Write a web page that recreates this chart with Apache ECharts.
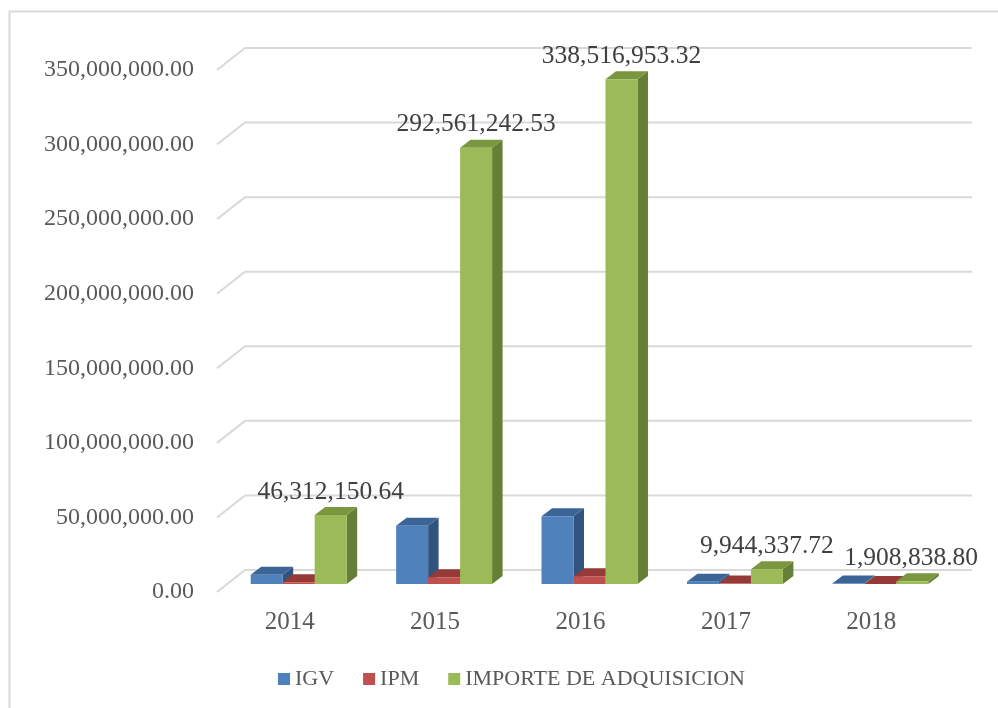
<!DOCTYPE html>
<html>
<head>
<meta charset="utf-8">
<script src="https://cdn.jsdelivr.net/npm/echarts@6/dist/echarts.min.js"></script>
<style>html,body{margin:0;padding:0;background:#fff;}#chart{width:998px;height:708px;}</style>
</head>
<body>
<div id="chart"></div>
<script>
const years = ['2014', '2015', '2016', '2017', '2018'];
const igv = [6200000, 39000000, 45500000, 1500000, 300000];
const ipm = [1200000, 4500000, 5200000, 400000, 60000];
const importe = [46312150.64, 292561242.53, 338516953.32, 9944337.72, 1908838.80];
const yTickValues = [0, 50000000, 100000000, 150000000, 200000000, 250000000, 300000000, 350000000];
const seriesNames = ['IGV', 'IPM', 'IMPORTE DE ADQUISICION'];

const FONT = '"Liberation Serif", serif';
const fmt = v => v.toLocaleString('en-US', {minimumFractionDigits: 2, maximumFractionDigits: 2});

const palette = [
  {front: '#4F81BD', top: '#3C6597', side: '#31547F'},
  {front: '#C0504D', top: '#953A37', side: '#86302E'},
  {front: '#9BBB59', top: '#7A963F', side: '#667F36'}
];

const measureCtx = document.createElement('canvas').getContext('2d');
function textWidth(t, size) {
  measureCtx.font = size + 'px ' + FONT;
  return measureCtx.measureText(t).width;
}

const DX = 10.5, DY = -8;
const LABEL_SIZE = 25.5;

function barSeries(idx, values, withLabel) {
  return {
    name: seriesNames[idx],
    type: 'custom',
    itemStyle: {color: palette[idx].front},
    data: values.map((v, i) => [i, v]),
    encode: {x: 0, y: 1},
    z: 3 + idx,
    renderItem: function (params, api) {
      const cat = api.value(0), v = api.value(1);
      const base = api.coord([cat, 0]);
      const top = api.coord([cat, v]);
      const band = api.size([1, 0])[0];
      const bw = band * 0.22;
      const x0 = base[0] + (idx - 1.5) * bw;
      const x1 = x0 + bw;
      const yb = base[1], yt = top[1];
      const c = palette[idx];
      const children = [
        {type: 'polygon', shape: {points: [[x1, yt], [x1 + DX, yt + DY], [x1 + DX, yb + DY], [x1, yb]]}, style: {fill: c.side}},
        {type: 'polygon', shape: {points: [[x0, yt], [x0 + DX, yt + DY], [x1 + DX, yt + DY], [x1, yt]]}, style: {fill: c.top}},
        {type: 'rect', shape: {x: x0, y: yt, width: bw, height: yb - yt}, style: {fill: c.front}}
      ];
      if (withLabel) {
        const txt = fmt(v);
        const w = textWidth(txt, LABEL_SIZE);
        let cx = (x0 + x1) / 2;
        const rightLimit = api.getWidth() - 20;
        if (cx + w / 2 > rightLimit) cx = rightLimit - w / 2;
        children.push({
          type: 'text',
          z2: 10,
          style: {text: txt, x: cx, y: yt - 23, align: 'center', verticalAlign: 'middle',
            fill: '#404040', font: LABEL_SIZE + 'px ' + FONT}
        });
      }
      return {type: 'group', children: children};
    }
  };
}

const wallSeries = {
  name: 'walls',
  type: 'custom',
  silent: true,
  z: 1,
  data: yTickValues.map(v => [0, v]),
  encode: {x: 0, y: 1},
  renderItem: function (params, api) {
    const p = api.coord([0, api.value(1)]);
    const band = api.size([1, 0])[0];
    const L = p[0] - band / 2;
    const R = L + band * years.length;
    const y = p[1];
    return {
      type: 'polyline',
      shape: {points: [[L - 9, y + 8], [L + 19, y - 14], [R + 19, y - 14]]},
      style: {stroke: '#D9D9D9', lineWidth: 2, fill: null}
    };
  }
};

const chart = echarts.init(document.getElementById('chart'), null, {renderer: 'canvas'});
chart.setOption({
  backgroundColor: '#ffffff',
  animation: false,
  graphic: [{
    type: 'rect', silent: true, z: -10,
    shape: {x: 9.5, y: 11.5, width: 1010, height: 720},
    style: {fill: null, stroke: '#D9D9D9', lineWidth: 2}
  }],
  grid: {left: 226, right: 45, top: 62, bottom: 124, containLabel: false},
  legend: {
    data: seriesNames,
    left: 273,
    top: 663,
    icon: 'rect',
    itemWidth: 12,
    itemHeight: 12,
    itemGap: 29,
    textStyle: {fontFamily: FONT, fontSize: 22, color: '#595959'}
  },
  xAxis: {
    type: 'category',
    data: years,
    axisLine: {show: false},
    axisTick: {show: false},
    splitLine: {show: false},
    axisLabel: {margin: 26, fontFamily: FONT, fontSize: 25, color: '#595959', padding: [0, 18, 0, 0]}
  },
  yAxis: {
    type: 'value',
    min: 0,
    max: 350000000,
    interval: 50000000,
    axisLine: {show: false},
    axisTick: {show: false},
    splitLine: {show: false},
    axisLabel: {margin: 32, fontFamily: FONT, fontSize: 24, color: '#595959',
      verticalAlign: 'top', lineHeight: 16,
      formatter: v => fmt(v)}
  },
  series: [wallSeries, barSeries(0, igv, false), barSeries(1, ipm, false), barSeries(2, importe, true)]
});
</script>
</body>
</html>
